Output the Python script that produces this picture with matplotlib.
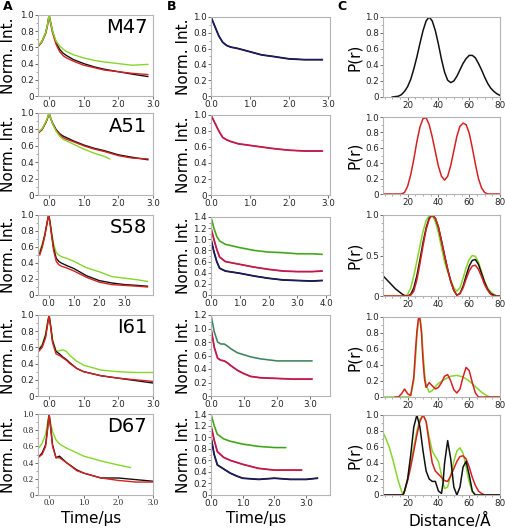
import matplotlib
matplotlib.use('Agg')
import matplotlib.pyplot as plt
from matplotlib.ticker import FuncFormatter, MultipleLocator

# ---------------- column A: normalised intensity vs time ----------------
tA1 = [-0.3, -0.2, -0.1, -0.05, 0, 0.05, 0.1, 0.2, 0.3, 0.4, 0.5, 0.7, 1.0, 1.3, 1.6, 2.0, 2.4, 2.85]
m47_black = [0.62, 0.68, 0.78, 0.87, 1.0, 0.90, 0.80, 0.66, 0.58, 0.53, 0.50, 0.45, 0.40, 0.36, 0.33, 0.30, 0.27, 0.24]
m47_red = [0.62, 0.67, 0.77, 0.86, 1.0, 0.88, 0.78, 0.64, 0.55, 0.50, 0.47, 0.43, 0.38, 0.35, 0.32, 0.30, 0.28, 0.265]
m47_green = [0.63, 0.68, 0.78, 0.87, 1.0, 0.90, 0.80, 0.68, 0.62, 0.58, 0.55, 0.51, 0.47, 0.44, 0.42, 0.40, 0.38, 0.39]

tA2 = tA1
a51_black = [0.76, 0.80, 0.88, 0.93, 1.0, 0.93, 0.88, 0.80, 0.75, 0.72, 0.70, 0.66, 0.61, 0.57, 0.54, 0.49, 0.46, 0.43]
a51_red = [0.76, 0.80, 0.88, 0.93, 1.0, 0.93, 0.87, 0.79, 0.74, 0.70, 0.68, 0.65, 0.60, 0.56, 0.53, 0.48, 0.45, 0.44]
tA2g = [-0.3, -0.2, -0.1, -0.05, 0, 0.05, 0.1, 0.2, 0.3, 0.4, 0.5, 0.7, 1.0, 1.3, 1.6, 1.75]
a51_green = [0.77, 0.81, 0.89, 0.94, 1.0, 0.93, 0.87, 0.78, 0.72, 0.68, 0.66, 0.62, 0.56, 0.51, 0.47, 0.44]

tA3 = [-0.35, -0.25, -0.15, -0.05, 0, 0.05, 0.1, 0.2, 0.3, 0.4, 0.5, 0.7, 1.0, 1.5, 2.0, 2.5, 3.0, 3.5, 3.9]
s58_black = [0.52, 0.62, 0.75, 0.92, 1.0, 0.92, 0.80, 0.58, 0.46, 0.42, 0.40, 0.37, 0.33, 0.24, 0.18, 0.15, 0.13, 0.12, 0.11]
s58_red = [0.50, 0.60, 0.74, 0.92, 1.0, 0.91, 0.78, 0.55, 0.42, 0.38, 0.36, 0.34, 0.30, 0.22, 0.16, 0.13, 0.12, 0.11, 0.10]
s58_green = [0.55, 0.64, 0.77, 0.93, 1.0, 0.93, 0.82, 0.63, 0.53, 0.50, 0.48, 0.46, 0.42, 0.34, 0.29, 0.23, 0.21, 0.19, 0.17]

tA4 = [-0.3, -0.2, -0.1, -0.05, 0, 0.05, 0.1, 0.2, 0.3, 0.4, 0.5, 0.6, 0.8, 1.0, 1.5, 2.0, 2.5, 3.0]
i61_black = [0.57, 0.62, 0.75, 0.88, 1.0, 0.85, 0.68, 0.55, 0.52, 0.48, 0.45, 0.41, 0.34, 0.30, 0.25, 0.22, 0.19, 0.16]
i61_red = [0.55, 0.60, 0.72, 0.86, 1.0, 0.83, 0.66, 0.52, 0.50, 0.47, 0.44, 0.40, 0.34, 0.30, 0.25, 0.22, 0.20, 0.18]
i61_green = [0.58, 0.63, 0.77, 0.90, 1.0, 0.86, 0.70, 0.55, 0.56, 0.57, 0.55, 0.50, 0.43, 0.38, 0.32, 0.30, 0.29, 0.29]

tA5 = [-0.3, -0.2, -0.1, -0.05, 0, 0.05, 0.1, 0.2, 0.3, 0.5, 0.8, 1.0, 1.5, 2.0, 2.5, 3.0]
d67_black = [0.47, 0.52, 0.62, 0.80, 1.0, 0.82, 0.62, 0.46, 0.48, 0.40, 0.31, 0.27, 0.21, 0.21, 0.19, 0.17]
d67_red = [0.47, 0.50, 0.60, 0.78, 1.0, 0.80, 0.60, 0.46, 0.46, 0.40, 0.30, 0.27, 0.21, 0.18, 0.16, 0.16]
tA5g = [-0.3, -0.2, -0.1, -0.05, 0, 0.05, 0.1, 0.2, 0.3, 0.5, 0.8, 1.0, 1.5, 2.0, 2.35]
d67_green = [0.58, 0.64, 0.75, 0.88, 1.0, 0.88, 0.78, 0.68, 0.63, 0.58, 0.52, 0.48, 0.42, 0.37, 0.34]

# ---------------- column B: stacked decays ----------------
tB1 = [0, 0.1, 0.2, 0.3, 0.4, 0.5, 0.7, 1.0, 1.3, 1.6, 2.0, 2.4, 2.85]
b1_navy = [1.0, 0.88, 0.76, 0.68, 0.64, 0.62, 0.60, 0.56, 0.52, 0.50, 0.47, 0.46, 0.46]
b2_mag = [1.0, 0.90, 0.80, 0.72, 0.69, 0.67, 0.64, 0.62, 0.60, 0.58, 0.56, 0.55, 0.55]

tB3 = [0, 0.1, 0.2, 0.3, 0.5, 1.0, 1.5, 2.0, 2.5, 3.0, 3.5, 3.85]
b3_green = [1.4, 1.2, 1.05, 0.97, 0.91, 0.85, 0.80, 0.77, 0.76, 0.74, 0.74, 0.73]
b3_mag = [1.2, 1.0, 0.82, 0.68, 0.60, 0.55, 0.50, 0.46, 0.43, 0.42, 0.42, 0.43]
b3_navy = [1.0, 0.78, 0.60, 0.48, 0.43, 0.39, 0.34, 0.30, 0.27, 0.26, 0.25, 0.26]

tB4 = [0, 0.1, 0.2, 0.3, 0.4, 0.5, 0.6, 0.8, 1.0, 1.2, 1.5, 2.0, 2.5, 3.05]
b4_green = [1.2, 0.95, 0.80, 0.77, 0.77, 0.74, 0.70, 0.64, 0.61, 0.58, 0.55, 0.52, 0.52, 0.52]
b4_mag = [1.0, 0.72, 0.56, 0.53, 0.52, 0.49, 0.45, 0.38, 0.33, 0.29, 0.27, 0.26, 0.25, 0.25]

tB5g = [0, 0.1, 0.2, 0.4, 0.6, 1.0, 1.5, 2.0, 2.35]
b5_green = [1.4, 1.2, 1.05, 0.97, 0.93, 0.88, 0.84, 0.82, 0.82]
tB5m = [0, 0.1, 0.2, 0.4, 0.6, 1.0, 1.5, 2.0, 2.5, 2.85]
b5_mag = [1.2, 0.95, 0.75, 0.65, 0.60, 0.53, 0.46, 0.43, 0.43, 0.43]
tB5n = [0, 0.1, 0.2, 0.4, 0.6, 0.8, 1.0, 1.5, 2.0, 2.5, 3.0, 3.35]
b5_navy = [1.0, 0.70, 0.52, 0.45, 0.38, 0.33, 0.29, 0.27, 0.29, 0.27, 0.27, 0.29]

# ---------------- column C: distance distributions ----------------
r1 = [10, 12, 14, 16, 18, 20, 22, 24, 26, 28, 30, 32, 34, 36, 38, 40, 42, 44, 46, 48, 50,
      52, 54, 56, 58, 60, 62, 64, 66, 68, 70, 72, 74, 76, 78, 80]
c1_black = [0, 0.005, 0.01, 0.03, 0.07, 0.13, 0.22, 0.35, 0.50, 0.67, 0.83, 0.95, 1.0, 0.95, 0.83,
            0.66, 0.47, 0.31, 0.21, 0.18, 0.20, 0.26, 0.34, 0.42, 0.48, 0.52, 0.52, 0.49, 0.42,
            0.34, 0.25, 0.17, 0.11, 0.07, 0.04, 0.02]

r2 = [4, 16, 18, 20, 22, 24, 26, 28, 30, 32, 34, 36, 38, 40, 42, 44, 46, 48, 50, 52, 54, 56,
      58, 60, 62, 64, 66, 68, 70, 72, 80]
c2_red = [0, 0, 0.02, 0.10, 0.25, 0.45, 0.68, 0.87, 0.98, 0.99, 0.90, 0.74, 0.55, 0.36, 0.23,
          0.18, 0.23, 0.37, 0.56, 0.75, 0.88, 0.92, 0.90, 0.79, 0.60, 0.39, 0.20, 0.08, 0.02, 0, 0]

r3 = [4, 6, 8, 10, 12, 14, 16, 18, 20, 22, 24, 26, 28, 30, 32, 34, 36, 38, 40, 42, 44, 46, 48,
      50, 52, 54, 56, 58, 60, 62, 64, 66, 68, 70, 72, 74, 76, 78, 80]
c3_black = [0.25, 0.21, 0.17, 0.13, 0.09, 0.06, 0.03, 0.005, 0, 0.02, 0.10, 0.25, 0.45, 0.66,
            0.84, 0.96, 1.0, 0.96, 0.85, 0.68, 0.50, 0.33, 0.18, 0.07, 0.01, 0.03, 0.12, 0.25,
            0.37, 0.44, 0.45, 0.39, 0.28, 0.17, 0.08, 0.03, 0.01, 0, 0]
c3_red = [0, 0, 0, 0, 0, 0, 0, 0, 0, 0.01, 0.06, 0.20, 0.40, 0.62, 0.82, 0.95, 1.0, 0.96, 0.85,
          0.68, 0.50, 0.33, 0.18, 0.07, 0.01, 0.03, 0.10, 0.21, 0.31, 0.37, 0.38, 0.33, 0.24,
          0.14, 0.07, 0.02, 0, 0, 0]
c3_green = [0, 0, 0, 0, 0, 0, 0, 0, 0.02, 0.10, 0.25, 0.43, 0.62, 0.80, 0.93, 0.99, 0.99, 0.92,
            0.78, 0.60, 0.42, 0.30, 0.20, 0.10, 0.06, 0.10, 0.22, 0.35, 0.45, 0.50, 0.49, 0.42,
            0.30, 0.18, 0.10, 0.05, 0.02, 0, 0]

r4r = [12, 14, 16, 18, 20, 22, 24, 25, 26, 27, 28, 29, 30, 31, 32, 34, 36, 38, 40, 42, 44, 46,
       48, 50, 52, 54, 56, 58, 60, 62, 64, 66, 80]
c4_red = [0, 0, 0.04, 0.10, 0.04, 0.02, 0.25, 0.55, 0.82, 0.98, 0.98, 0.80, 0.45, 0.22, 0.12,
          0.18, 0.14, 0.10, 0.12, 0.18, 0.26, 0.28, 0.20, 0.09, 0.05, 0.10, 0.25, 0.37, 0.33,
          0.18, 0.05, 0, 0]
r4g = [4, 20, 22, 24, 25, 26, 27, 28, 29, 30, 31, 32, 34, 36, 38, 40, 44, 48, 52, 56, 60, 64,
       68, 72, 74, 80]
c4_green = [0, 0, 0.02, 0.20, 0.45, 0.75, 0.95, 1.0, 0.85, 0.55, 0.30, 0.15, 0.06, 0.08, 0.13,
            0.17, 0.22, 0.26, 0.27, 0.25, 0.20, 0.13, 0.06, 0.01, 0, 0]

r5 = [4, 6, 8, 10, 12, 14, 16, 17, 18, 20, 22, 24, 26, 28, 30, 32, 34, 36, 38, 40, 42, 43, 44,
      46, 48, 50, 52, 54, 56, 58, 60, 62, 64, 66, 68, 70, 80]
c5_black = [0, 0, 0, 0, 0, 0, 0, 0, 0.05, 0.20, 0.50, 0.85, 1.0, 0.85, 0.55, 0.30, 0.20, 0.17,
            0.17, 0.05, 0.02, 0.15, 0.40, 0.68, 0.45, 0.10, 0, 0.10, 0.35, 0.42, 0.25, 0.05, 0,
            0, 0, 0, 0]
c5_red = [0, 0, 0, 0, 0, 0, 0, 0, 0.05, 0.18, 0.35, 0.55, 0.75, 0.92, 1.0, 0.92, 0.65, 0.40,
          0.30, 0.26, 0.22, 0.20, 0.18, 0.17, 0.24, 0.33, 0.42, 0.48, 0.49, 0.45, 0.35, 0.22,
          0.12, 0.05, 0.02, 0, 0]
c5_green = [0.78, 0.70, 0.60, 0.47, 0.32, 0.17, 0.05, 0, 0.05, 0.20, 0.40, 0.60, 0.80, 0.95,
            1.0, 0.92, 0.72, 0.55, 0.48, 0.42, 0.25, 0.15, 0.08, 0.10, 0.25, 0.42, 0.55, 0.59,
            0.52, 0.35, 0.16, 0.04, 0, 0, 0, 0, 0]

BLACK = '#111111'
RED = '#d42222'
GREEN = '#86d62a'
NAVY = '#1c1c78'
MAG = '#b51a6a'
DGREEN = '#3a9a3a'
FRAME = '#b4b4b4'

W, H = 506, 531
fig = plt.figure(figsize=(W / 100, H / 100), dpi=100)


def make_ax(x0, x1, ytop, ybot):
    ax = fig.add_axes([x0 / W, 1 - ybot / H, (x1 - x0) / W, (ybot - ytop) / H])
    for s in ax.spines.values():
        s.set_color(FRAME)
        s.set_linewidth(0.8)
    ax.tick_params(labelsize=6.3, colors='#555555', labelcolor='#222222', length=2,
                   width=0.6, pad=1)
    ax.tick_params(which='minor', length=1.2, width=0.5, colors='#888888')
    ax.yaxis.set_major_formatter(FuncFormatter(lambda v, _: '0' if abs(v) < 1e-9 else f'{v:.1f}'))
    return ax


rowsA = [(15, 96), (113, 195), (215, 295), (315, 396), (414, 495)]
rowsB = [(17, 96), (115, 195), (217, 295), (315, 396), (414, 495)]
rowsC = [(17, 97), (117, 194), (215, 296), (317, 397), (415, 495)]

# column A
panelsA = [
    ('M47', [(tA1, m47_black, BLACK), (tA1, m47_red, RED), (tA1, m47_green, GREEN)], (-0.32, 3.0)),
    ('A51', [(tA2, a51_black, BLACK), (tA2, a51_red, RED), (tA2g, a51_green, GREEN)], (-0.32, 3.0)),
    ('S58', [(tA3, s58_green, GREEN), (tA3, s58_black, BLACK), (tA3, s58_red, RED)], (-0.42, 4.12)),
    ('I61', [(tA4, i61_green, GREEN), (tA4, i61_black, BLACK), (tA4, i61_red, RED)], (-0.32, 3.0)),
    ('D67', [(tA5g, d67_green, GREEN), (tA5, d67_black, BLACK), (tA5, d67_red, RED)], (-0.32, 3.0)),
]
for i, (name, traces, xl) in enumerate(panelsA):
    ax = make_ax(38, 153, *rowsA[i])
    for t, y, c in traces:
        ax.plot(t, y, color=c, lw=1.0)
    ax.set_xlim(*xl)
    ax.set_ylim(0, 1.0)
    ax.set_xticks([0, 1, 2, 3])
    ax.xaxis.set_major_formatter(FuncFormatter(lambda v, _: f'{v:.1f}'))
    ax.yaxis.set_major_locator(MultipleLocator(0.2))
    ax.yaxis.set_minor_locator(MultipleLocator(0.1))
    ax.text(0.95, 0.84, name, transform=ax.transAxes, ha='right', va='center', fontsize=14)
    if name == 'D67':
        for lab in ax.get_xticklabels() + ax.get_yticklabels():
            lab.set_family('Liberation Serif')
    yc = (rowsA[i][0] + rowsA[i][1]) / 2
    fig.text(9 / W, 1 - yc / H, 'Norm. Int.', rotation=90, ha='center', va='center', fontsize=11)

# column B
panelsB = [
    ([(tB1, b1_navy, BLACK, NAVY)], (0, 3.05), 1.0),
    ([(tB1, b2_mag, RED, MAG)], (0, 3.05), 1.0),
    ([(tB3, b3_green, GREEN, DGREEN), (tB3, b3_mag, RED, MAG), (tB3, b3_navy, BLACK, NAVY)], (0, 4.13), 1.4),
    ([(tB4, b4_green, GREEN, '#3a6ab0'), (tB4, b4_mag, RED, MAG)], (0, 3.6), 1.2),
    ([(tB5g, b5_green, GREEN, DGREEN), (tB5m, b5_mag, RED, MAG), (tB5n, b5_navy, BLACK, NAVY)], (0, 3.75), 1.4),
]
for i, (traces, xl, ytop) in enumerate(panelsB):
    ax = make_ax(211, 330, *rowsB[i])
    for t, y, cd, cf in traces:
        ax.plot(t, y, color=cd, lw=1.3)
        ax.plot(t, y, color=cf, lw=0.8)
    ax.set_xlim(*xl)
    ax.set_ylim(0, ytop)
    ax.set_xticks([v for v in [0, 1, 2, 3, 4] if v <= xl[1]])
    ax.xaxis.set_major_formatter(FuncFormatter(lambda v, _: f'{v:.1f}'))
    ax.yaxis.set_major_locator(MultipleLocator(0.2))
    ax.yaxis.set_minor_locator(MultipleLocator(0.1))
    yc = (rowsB[i][0] + rowsB[i][1]) / 2
    fig.text(183 / W, 1 - yc / H, 'Norm. Int.', rotation=90, ha='center', va='center', fontsize=11)

# column C
panelsC = [
    [(r1, c1_black, BLACK)],
    [(r2, c2_red, RED)],
    [(r3, c3_green, GREEN), (r3, c3_black, BLACK), (r3, c3_red, RED)],
    [(r4g, c4_green, GREEN), (r4r, c4_red, RED)],
    [(r5, c5_green, GREEN), (r5, c5_red, RED), (r5, c5_black, BLACK)],
]
for i, traces in enumerate(panelsC):
    ax = make_ax(383, 500, *rowsC[i])
    for r, p, c in traces:
        ax.plot(r, p, color=c, lw=1.1)
    ax.set_xlim(4, 80)
    ax.set_ylim(0, 1.0)
    ax.set_xticks([20, 40, 60, 80])
    ax.xaxis.set_minor_locator(MultipleLocator(5))
    ax.xaxis.set_major_formatter(FuncFormatter(lambda v, _: f'{v:.0f}'))
    if i == 2:
        ax.yaxis.set_major_locator(MultipleLocator(0.5))
        ax.yaxis.set_minor_locator(MultipleLocator(0.1))
    else:
        ax.yaxis.set_major_locator(MultipleLocator(0.2))
        ax.yaxis.set_minor_locator(MultipleLocator(0.1))
    yc = (rowsC[i][0] + rowsC[i][1]) / 2
    fig.text(355 / W, 1 - yc / H, 'P(r)', rotation=90, ha='center', va='center', fontsize=11)

# panel letters and x labels
fig.text(3 / W, 1 - 7 / H, 'A', fontsize=9, fontweight='bold', va='center')
fig.text(167 / W, 1 - 7 / H, 'B', fontsize=9, fontweight='bold', va='center')
fig.text(337 / W, 1 - 7 / H, 'C', fontsize=9, fontweight='bold', va='center')
fig.text(91 / W, 1 - 519 / H, 'Time/µs', ha='center', va='center', fontsize=11)
fig.text(256 / W, 1 - 519 / H, 'Time/µs', ha='center', va='center', fontsize=11)
fig.text(450 / W, 1 - 521 / H, 'Distance/Å', ha='center', va='center', fontsize=11)

fig.savefig('out.png', dpi=100)
